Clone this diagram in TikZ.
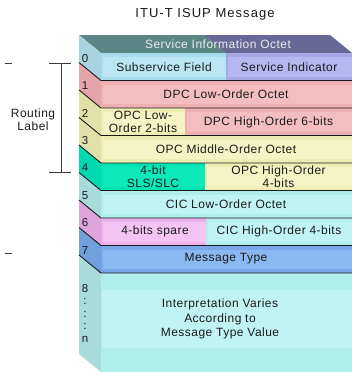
\documentclass[tikz,border=0pt]{standalone}
\usepackage{fontspec}
\setmainfont{Liberation Sans}
\newfontfamily\titlefont[LetterSpace=8]{Liberation Sans}
\newfontfamily\cellfont[LetterSpace=4]{Liberation Sans}

% palette: side face / front face / inner panel of each field
\definecolor{topA}{HTML}{5B8686}
\definecolor{topB}{HTML}{686896}
\definecolor{blueS}{HTML}{A8D4E0}
\definecolor{blueF}{HTML}{A8DCEC}
\definecolor{blueI}{HTML}{BAE6F4}
\definecolor{lavF}{HTML}{A8A8E6}
\definecolor{lavI}{HTML}{B6B6F0}
\definecolor{pinkS}{HTML}{E4A4A8}
\definecolor{pinkF}{HTML}{EEB0B0}
\definecolor{pinkI}{HTML}{F4BEBE}
\definecolor{beigeS}{HTML}{E0E0A8}
\definecolor{beigeF}{HTML}{EEEEB4}
\definecolor{beigeI}{HTML}{F4F4C4}
\definecolor{greenS}{HTML}{00D8B0}
\definecolor{greenF}{HTML}{00E4B4}
\definecolor{greenI}{HTML}{0CEABC}
\definecolor{cyanS}{HTML}{A8DCDC}
\definecolor{cyanF}{HTML}{B0EEEE}
\definecolor{cyanI}{HTML}{C0F4F4}
\definecolor{violS}{HTML}{E0A4DC}
\definecolor{violF}{HTML}{ECB0EC}
\definecolor{violI}{HTML}{F4C4F4}
\definecolor{navyS}{HTML}{70A0DC}
\definecolor{navyF}{HTML}{78A8E8}
\definecolor{navyI}{HTML}{8AB8F0}
\definecolor{ink}{HTML}{1A1A1A}

\begin{document}
\begin{tikzpicture}[x=1pt,y=-1pt,
  sep/.style={draw=ink, line width=0.9pt},
  tick/.style={draw=ink!85, line width=0.9pt},
  num/.style={font=\fontsize{11.5}{12}\selectfont, text=ink, inner sep=0},
  txt/.style={font=\cellfont\fontsize{12}{13}\selectfont, text=ink, align=center, inner sep=0},
]
\useasboundingbox (0,0) rectangle (352,372);

% title
\node[font=\titlefont\fontsize{13}{14}\selectfont, text=ink, inner sep=0] (title) at (205,14) {ITU-T ISUP Message};

% top face, split above the two fields of octet 0
\fill[topA] (79,35) -- (204,35) -- (226,53) -- (101,53) -- cycle;
\fill[topB] (204,35) -- (330,35) -- (352,53) -- (226,53) -- cycle;
\node[font=\cellfont\fontsize{12}{13}\selectfont, text=white!92!black, inner sep=0] (sio) at (218,44) {Service Information Octet};

% left side faces of the octets (depth offset -22,-18)
\foreach \t/\b/\c in {53/80.5/blueS, 80.5/108/pinkS, 108/135.5/beigeS, 135.5/163/beigeS,
                       163/190.5/greenS, 190.5/218/cyanS, 218/245.5/violS, 245.5/273/navyS,
                       273/372/cyanS}
  \fill[\c] (101,\t) -- (79,\t-18) -- (79,\b-18) -- (101,\b) -- cycle;

% front faces: outer fill with a lighter inner panel
\foreach \xa/\xb/\t/\b/\f/\i in {
    101/226/53/80.5/blueF/blueI, 226/352/53/80.5/lavF/lavI,
    101/352/80.5/108/pinkF/pinkI,
    101/185/108/135.5/beigeF/beigeI, 185/352/108/135.5/pinkF/pinkI,
    101/352/135.5/163/beigeF/beigeI,
    101/205/163/190.5/greenF/greenI, 205/352/163/190.5/beigeF/beigeI,
    101/352/190.5/218/cyanF/cyanI,
    101/206/218/245.5/violF/violI, 206/352/218/245.5/cyanF/cyanI,
    101/352/245.5/273/navyF/navyI}
{
  \fill[\f] (\xa,\t) rectangle (\xb,\b);
  \fill[\i] (\xa+2,\t+4) rectangle (\xb,\b-4);
}
\fill[cyanF] (101,273) rectangle (352,372);
\fill[cyanI] (102,290) rectangle (352,348);

% octet boundaries: bevel on the side, then across the front
\foreach \t in {80.5,108,135.5,163,190.5,218,245.5,273}
  \draw[sep] (79,\t-18) -- (101,\t) -- (352,\t);

% octet numbers
\foreach \n/\y in {0/59, 1/86, 2/113.5, 3/141, 4/168, 5/195.5, 6/223, 7/250.5}
  \node[num] (n\n) at (85,\y) {\n};
\node[num, align=center, font=\fontsize{11.5}{13.5}\selectfont] (n8) at (85,313)
  {8\\[-1pt]:\\[-1pt]:\\[-1pt]:\\[-1pt]n};

% field texts
\node[txt] (f0a) at (164,67) {Subservice Field};
\node[txt] (f0b) at (289,67) {Service Indicator};
\node[txt] (f1)  at (226,94) {DPC Low-Order Octet};
\node[txt] (f2a) at (143,121.5) {OPC Low-\\Order 2-bits};
\node[txt] (f2b) at (268.5,122) {DPC High-Order 6-bits};
\node[txt] (f3)  at (226,149) {OPC Middle-Order Octet};
\node[txt] (f4a) at (153,176.5) {4-bit\\SLS/SLC};
\node[txt] (f4b) at (278.5,176.5) {OPC High-Order\\4-bits};
\node[txt] (f5)  at (226,204) {CIC Low-Order Octet};
\node[txt] (f6a) at (155,231.5) {4-bits spare};
\node[txt] (f6b) at (279,231.5) {CIC High-Order 4-bits};
\node[txt] (f7)  at (226,258.5) {Message Type};
\node[txt, font=\cellfont\fontsize{12}{14.5}\selectfont] (f8) at (220,319)
  {Interpretation Varies\\According to\\Message Type Value};

% routing label bracket
\coordinate (rtl) at (49,63);  \coordinate (rtr) at (71,63);
\coordinate (rbl) at (49,172); \coordinate (rbr) at (71,172);
\coordinate (rtm) at (61,63);  \coordinate (rbm) at (61,172);
\draw[tick] (rtl) -- (rtr);
\draw[tick] (rbl) -- (rbr);
\draw[tick] (rtm) -- (rbm);
\node[txt] (route) at (33,119.5) {Routing\\Label};

% short marks at the header and body limits
\coordinate (m1a) at (5,63);  \coordinate (m1b) at (12,63);
\coordinate (m2a) at (5,253); \coordinate (m2b) at (12,253);
\draw[tick] (m1a) -- (m1b);
\draw[tick] (m2a) -- (m2b);
\end{tikzpicture}
\end{document}
